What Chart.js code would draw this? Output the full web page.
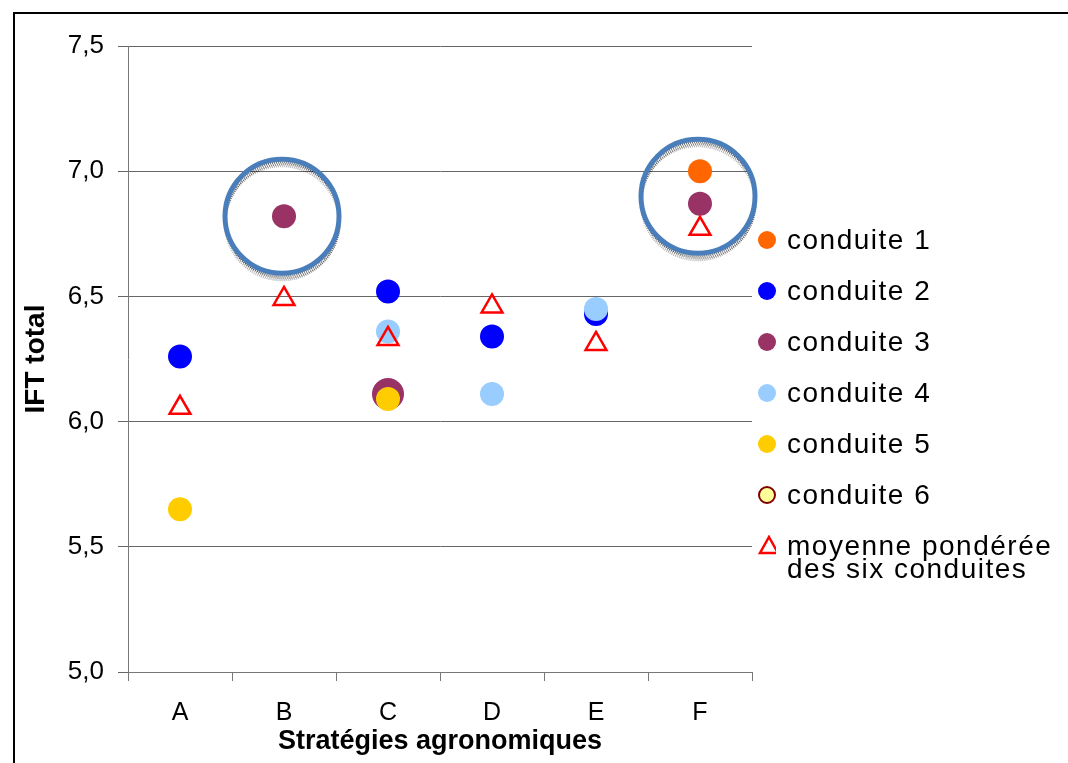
<!DOCTYPE html>
<html>
<head>
<meta charset="utf-8">
<script src="https://cdn.jsdelivr.net/npm/chart.js@4"></script>
<style>
  body { margin: 0; background: #fff; }
  #wrap { position: relative; width: 1068px; height: 763px; }
  #legend { position: absolute; left: 758px; top: 214px; font-family: 'Liberation Sans', Arial, sans-serif;
            font-size: 28px; letter-spacing: 1.5px; color: #000; }
  .item { display: flex; align-items: center; height: 51px; }
  .item .mk { width: 18px; height: 18px; margin-right: 11px; flex: none; display: flex; align-items: center; justify-content: center; }
  .item .txt { line-height: 23px; white-space: nowrap; }
  .item.multi { align-items: flex-start; }
  .item.multi .mk { margin-top: 16px; }
  .item.multi .txt { margin-top: 14px; }
</style>
</head>
<body>
<div id="wrap">
  <canvas id="chart" width="1068" height="763"></canvas>
  <div id="legend"></div>
</div>
<script>
// categories and values
const categories = ['A', 'B', 'C', 'D', 'E', 'F'];
const conduite1 = [null, null, null, null, null, 7.00];
const conduite2 = [6.26, null, 6.52, 6.34, 6.43, null];
const conduite3 = [null, 6.82, 6.11, null, null, 6.87];
const conduite4 = [null, null, 6.36, 6.11, 6.45, null];
const conduite5 = [5.65, null, 6.09, null, null, null];
const conduite6 = [null, null, null, null, null, null];
const moyenne = [6.055, 6.49, 6.33, 6.46, 6.31, 6.77];
const yTicks = [5.0, 5.5, 6.0, 6.5, 7.0, 7.5];

// highlighted groups (blue rings)
const highlightCats = ['B', 'F'];
const highlightValues = [6.82, 6.90];

const font = "'Liberation Sans', Arial, sans-serif";

function dotSet(label, data, color, order) {
    return {
        label: label,
        data: data,
        showLine: false,
        backgroundColor: color,
        borderColor: color,
        borderWidth: 0,
        pointRadius: 12,
        pointHoverRadius: 12,
        order: order
    };
}

const datasets = [
    dotSet('conduite 1', conduite1, '#FF6600', 6),
    dotSet('conduite 2', conduite2, '#0000FF', 5),
    dotSet('conduite 3', conduite3, '#993366', 4),
    dotSet('conduite 4', conduite4, '#99CCFF', 3),
    dotSet('conduite 5', conduite5, '#FFCC00', 2),
    {
        label: 'conduite 6',
        data: conduite6,
        showLine: false,
        backgroundColor: '#FFFF99',
        borderColor: '#800000',
        borderWidth: 2,
        pointRadius: 8,
        order: 1
    },
    {
        label: 'moyenne pondérée des six conduites',
        data: moyenne,
        showLine: false,
        pointStyle: 'triangle',
        backgroundColor: 'rgba(0,0,0,0)',
        borderColor: '#FF0000',
        borderWidth: 2.5,
        pointRadius: 12,
        pointHoverRadius: 12,
        order: 0
    }
];
// the conduite 3 dot at C is drawn a bit larger in the original
datasets[2].pointRadius = ctx => (ctx.dataIndex === 2 ? 16 : 12);
datasets[2].pointHoverRadius = datasets[2].pointRadius;

// outer frame (left and top edges only, the rest is cropped)
const framePlugin = {
    id: 'frame',
    beforeDraw(chart) {
        const c = chart.ctx;
        c.save();
        c.strokeStyle = '#000';
        c.lineWidth = 2;
        c.beginPath();
        c.moveTo(14, chart.height);
        c.lineTo(14, 13);
        c.lineTo(chart.width, 13);
        c.stroke();
        c.restore();
    }
};

// blue rings with a stippled grey shadow around the highlighted groups
const ringPlugin = {
    id: 'rings',
    afterDatasetsDraw(chart) {
        const c = chart.ctx;
        const xs = chart.scales.x, ys = chart.scales.y;
        highlightCats.forEach((cat, i) => {
            const cx = xs.getPixelForValue(categories.indexOf(cat)) - 2;
            const cy = ys.getPixelForValue(highlightValues[i]);
            const r = 57;
            c.save();
            c.lineWidth = 2;
            c.setLineDash([1, 1]);
            [[0, 3, 'rgba(0,0,0,0.6)'], [1, 5, 'rgba(0,0,0,0.5)'], [0, 7, 'rgba(0,0,0,0.3)']].forEach(s => {
                c.strokeStyle = s[2];
                c.beginPath();
                c.arc(cx + s[0], cy + s[1], r, 0, Math.PI * 2);
                c.stroke();
            });
            c.setLineDash([]);
            c.strokeStyle = '#4A7EBB';
            c.lineWidth = 5;
            c.beginPath();
            c.arc(cx, cy, r, 0, Math.PI * 2);
            c.stroke();
            c.restore();
        });
    }
};

new Chart(document.getElementById('chart').getContext('2d'), {
    type: 'line',
    data: { labels: categories, datasets: datasets },
    options: {
        responsive: false,
        animation: false,
        layout: { padding: { left: 13, top: 46, right: 316, bottom: 0 } },
        plugins: { legend: { display: false }, tooltip: { enabled: false } },
        scales: {
            x: {
                type: 'category',
                offset: true,
                grid: { offset: true, drawOnChartArea: false, color: '#777', tickLength: 9 },
                border: { color: '#777' },
                ticks: { color: '#000', font: { family: font, size: 25 }, padding: 17 },
                title: {
                    display: true, text: 'Stratégies agronomiques', color: '#000',
                    font: { family: font, size: 27, weight: 'bold' }, padding: { top: 0, bottom: 5 }
                },
                afterFit: s => { s.height = 91; }
            },
            y: {
                min: 5.0,
                max: 7.5,
                afterBuildTicks: s => { s.ticks = yTicks.map(v => ({ value: v })); },
                grid: { color: '#666', tickLength: 10 },
                border: { color: '#777' },
                ticks: {
                    color: '#000', font: { family: font, size: 26 }, padding: 14,
                    callback: v => v.toFixed(1).replace('.', ',')
                },
                title: {
                    display: true, text: 'IFT total', color: '#000',
                    font: { family: font, size: 28, weight: 'bold' }, padding: { top: 6, bottom: 0 }
                },
                afterFit: s => { s.width = 115; }
            }
        }
    },
    plugins: [framePlugin, ringPlugin]
});

// legend built from the datasets
const legend = document.getElementById('legend');
datasets.forEach(ds => {
    const item = document.createElement('div');
    item.className = 'item';
    const mk = document.createElement('div');
    mk.className = 'mk';
    if (ds.pointStyle === 'triangle') {
        mk.innerHTML = '<svg width="22" height="20"><polygon points="11,2 20,18 2,18" fill="none" stroke="#FF0000" stroke-width="2.5"/></svg>';
    } else {
        const b = ds.borderWidth ? ds.borderWidth + 'px solid ' + ds.borderColor : 'none';
        mk.innerHTML = '<div style="width:' + (ds.borderWidth ? 14 : 18) + 'px;height:' + (ds.borderWidth ? 14 : 18) +
            'px;border-radius:50%;background:' + ds.backgroundColor + ';border:' + b + '"></div>';
    }
    const txt = document.createElement('div');
    txt.className = 'txt';
    if (ds.label === 'moyenne pondérée des six conduites') {
        item.className += ' multi';
        txt.innerHTML = 'moyenne pondérée<br>des six conduites';
    } else {
        txt.textContent = ds.label;
    }
    item.appendChild(mk);
    item.appendChild(txt);
    legend.appendChild(item);
});
</script>
</body>
</html>
